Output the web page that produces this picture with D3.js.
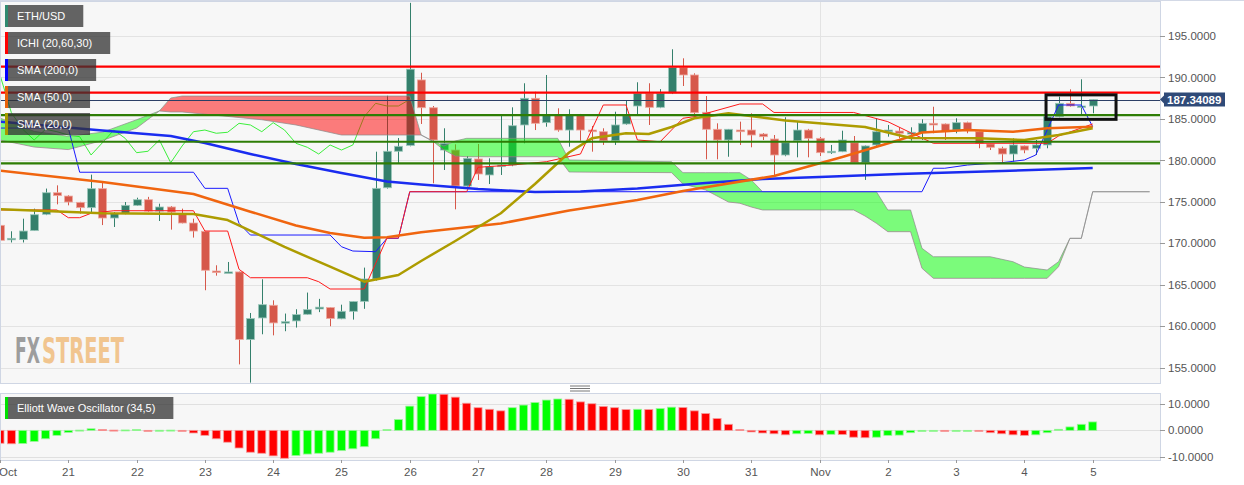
<!DOCTYPE html>
<html><head><meta charset="utf-8">
<script src="https://cdn.jsdelivr.net/npm/d3@7"></script>
<style>html,body{margin:0;padding:0;background:#fff;} svg{display:block;font-family:"Liberation Sans",Arial,sans-serif;}</style>
</head><body><svg id="c" width="1244" height="485"></svg>
<script>
// ---------- DATA ----------
const dayLabels = ["Oct","21","22","23","24","25","26","27","28","29","30","31","Nov","2","3","4","5"];
const priceTicks = [155,160,165,170,175,180,185,190,195];
const oscTicks = [10,0,-10];

const opens = [172.17,170.5,170.45,171.53,173.5,176.1,175.7,174.94,174.3,176.59,
173.05,173.58,174.58,175.26,173.89,174.38,173.58,172.45,171.45,166.66,
166.5,166.55,158.4,161.0,162.53,160.4,160.64,161.44,162.08,162.25,
160.9,161.8,163.0,165.7,176.7,181.1,181.8,189.7,186.35,181.25,
181.25,176.91,180.17,178.24,179.24,179.44,184.27,187.49,184.55,185.47,
183.66,185.47,183.66,183.46,182.37,184.39,186.56,188.09,186.4,188.13,
191.18,190.3,185.8,183.75,182.46,183.66,183.66,183.18,182.58,180.65,
182.37,183.66,182.66,181.0,181.05,182.13,179.72,181.86,183.46,183.54,
183.18,183.34,184.47,184.39,183.66,184.55,183.46,181.98,181.46,180.77,
181.74,181.46,181.86,185.27,186.88,186.4,186.56];
const closes = [170.36,170.6,171.48,173.45,176.1,175.75,174.98,174.3,176.59,173.05,
173.58,174.58,175.26,173.89,174.38,173.77,172.45,171.48,166.75,166.47,
166.55,158.4,160.93,162.6,160.4,160.55,161.4,162.0,162.3,160.93,
161.8,162.98,165.7,176.63,181.1,181.7,191.0,186.35,182.46,182.06,
176.91,180.25,178.36,179.24,179.44,184.18,187.49,184.47,185.47,183.66,
185.47,183.66,183.46,182.37,184.27,185.39,188.09,186.4,188.09,191.2,
190.3,185.75,183.75,182.46,183.75,183.46,183.06,182.86,180.65,182.13,
183.66,182.66,180.93,181.1,182.46,179.72,181.74,183.46,183.66,183.27,
183.39,184.47,184.27,183.46,184.55,183.66,182.06,181.58,180.77,181.86,
181.25,181.86,185.27,186.88,186.56,186.56,187.34];
const highs = [172.5,171.45,172.97,174.18,176.6,176.99,175.8,175.0,178.28,177.4,
173.77,174.98,175.5,175.6,174.78,174.5,174.18,172.97,171.5,167.35,
167.75,166.6,161.6,165.66,163.13,161.53,162.05,164.06,163.3,162.3,
162.6,163.0,167.07,181.05,187.8,182.7,199.0,190.57,186.56,183.87,
181.94,180.53,181.98,180.25,185.47,186.4,189.3,188.28,190.3,186.28,
186.16,185.6,184.15,183.87,185.87,187.28,189.42,189.3,188.6,193.4,
192.31,190.5,187.76,184.47,183.79,184.67,185.68,183.3,183.06,185.2,
184.67,183.8,182.82,181.86,183.58,182.94,181.8,185.08,184.27,183.99,
183.99,184.96,186.47,184.45,185.08,184.67,183.5,182.0,181.65,182.66,
181.8,182.46,185.35,187.68,188.57,189.78,187.37];
const lows = [169.55,170.1,170.1,171.5,173.4,174.7,174.58,173.58,173.77,172.2,
171.97,173.5,174.5,173.8,172.69,171.65,172.4,170.69,164.34,166.1,
166.45,155.4,153.2,159.03,158.9,159.4,159.84,161.4,161.7,160.0,
160.85,160.8,162.1,165.5,176.6,179.7,181.7,184.39,177.24,178.84,
174.1,176.83,177.64,177.15,178.24,179.3,182.06,183.66,184.06,183.46,
181.65,182.37,181.05,181.86,181.86,184.3,185.47,184.27,186.3,188.0,
188.97,185.27,180.13,180.13,180.44,181.86,181.58,182.46,178.24,180.5,
180.37,180.37,180.53,180.77,181.0,179.65,177.64,181.74,182.86,182.66,
182.37,182.46,183.27,182.46,183.27,183.27,181.46,181.25,179.65,179.84,
180.86,180.65,181.46,185.2,186.47,185.47,185.68];

const ewo = [-4.9,-5.1,-5.0,-4.2,-3.2,-1.9,-0.8,0.1,0.6,0.3,
0.1,0.15,0.3,0.0,0.05,0.1,0.0,-1.0,-1.9,-3.2,
-4.5,-6.7,-8.3,-8.7,-9.7,-10.6,-9.6,-9.0,-8.7,-8.3,
-7.7,-7.0,-6.2,-3.2,0.3,4.1,9.2,12.8,13.8,13.7,
12.6,10.3,8.6,8.0,7.4,8.6,9.6,10.6,11.5,11.9,
11.8,10.8,10.1,9.1,8.6,7.9,8.0,7.9,8.3,8.8,
8.7,7.4,6.4,4.5,2.3,0.3,-0.6,-1.0,-1.3,-1.7,
-1.3,-1.2,-1.7,-1.5,-1.6,-2.6,-2.8,-2.6,-1.9,-1.8,
-0.9,-0.4,-0.1,-0.2,-0.1,0.0,-0.3,-0.9,-1.3,-1.7,
-1.9,-1.7,-0.9,0.4,1.3,2.3,3.2];

// moving averages (vertex index, value)
const sma200Idx = [0,9,15,18,22,26,30,34,37,42,47,51,56,62,67,72,79,88,96];
const sma200Val = [184.67,183.6,182.94,182.1,180.77,179.56,178.48,177.45,177.09,176.55,176.19,176.25,176.6,177.27,177.76,178.0,178.36,178.72,179.08];
const sma50Idx = [0,9,17,22,26,29,32,34,37,44,50,56,60,68,74,79,81,85,89,92,96];
const sma50Val = [178.76,177.4,175.95,173.81,172.15,171.24,170.68,170.73,171.33,172.39,173.96,175.22,176.31,178.12,180.41,182.46,183.36,183.66,183.46,183.87,184.06];
const sma20Idx = [0,9,17,20,25,29,32,35,37,40,44,47,50,52,55,57,59,61,64,69,76,80,86,90,93,96];
const sma20Val = [174.1,173.62,173.53,172.81,169.56,167.18,165.37,166.18,167.87,170.28,173.62,177.15,180.95,182.66,183.27,183.18,184.03,185.08,185.68,184.81,184.03,182.70,182.66,182.46,183.06,183.87];

// ichimoku lines
const tenkanIdx = [0,5,6,7,8,10,17,18,20,21,22,27,28,29,32,34,35,36,41,42,45,48,51,53,55,56,58,60,61,65,67,68,75,78,80,82,92,93,96];
const tenkanVal = [174.02,174.02,173.09,173.09,173.62,173.93,173.93,171.48,171.48,166.87,165.85,165.85,165.37,164.49,164.49,170.64,170.64,176.22,176.22,179.17,179.44,179.84,180.77,186.68,186.68,182.46,182.25,185.08,185.27,186.8,186.8,185.78,185.78,184.67,183.34,182.06,182.06,182.94,184.39];
const kijunIdx = [0,6,7,17,18,20,21,22,29,30,31,33,34,35,36,81,82,83,85,88,90,91,92,93,95,96];
const kijunVal = [183.9,183.9,178.57,178.57,176.63,176.63,172.41,171.0,171.0,169.59,169.07,168.99,170.6,170.6,176.22,176.22,179.05,179.05,179.44,179.72,180.05,180.65,183.66,186.68,186.68,184.06];
// cloud (senkou A / B, already displaced)
const cloudIdx = [0,3,6,9,12,14,15,16,23,26,30,36,37,38,39,40,41,49,50,59,60,62,64,65,66,67,75,76,77,78,80,81,82,87,89,90,92,93,94,95,96,101];
const spanA = [185.11,183.5,182.9,183.4,184.9,185.96,185.84,185.84,184.9,184.27,183.06,183.06,183.06,182.34,181.74,182.34,182.66,182.66,180.05,179.84,178.52,178.52,178.52,178.52,177.64,176.22,176.22,176.22,176.22,174.02,174.02,169.4,168.38,168.38,167.78,167.14,166.78,167.78,170.6,170.6,176.22,176.22];
const spanB = [182.46,181.61,181.3,182.4,183.9,185.96,187.52,187.76,187.76,187.76,187.76,187.76,183.06,182.34,181.25,180.53,180.44,180.44,178.6,178.52,177.15,176.43,174.98,174.83,174.38,174.02,174.02,173.29,172.41,171.4,171.4,166.99,165.78,165.78,165.78,165.78,165.78,167.18,170.6,170.6,176.22,176.22];

const redLevels = [191.30,188.16];
const greenLevels = [185.47,182.25,179.65];
const lastPrice = 187.34089;
const chikouShift = 60;
const legendItems = ["ETH/USD","ICHI (20,60,30)","SMA (200,0)","SMA (50,0)","SMA (20,0)"];
const legendColors = ["#2f8a70","#ff0000","#0000ff","#e8620a","#a89a00"];

// ---------- LAYOUT ----------
const svg = d3.select("#c");
const PR = 1160, MT = 1, MB = 383, OT = 393, OB = 460;
const x = d3.scaleLinear().domain([0,96]).range([0,1092.7]);
const y = d3.scaleLinear().domain([155,195]).range([367.7,36]);
const yo = d3.scaleLinear().domain([-10,10]).range([456.7,404]);

svg.append("rect").attr("x",0).attr("y",0).attr("width",1244).attr("height",485).attr("fill","#fff");
svg.append("line").attr("x1",0).attr("x2",1244).attr("y1",0.5).attr("y2",0.5).attr("stroke","#d3d9e6");
svg.append("rect").attr("x",0.5).attr("y",MT+0.5).attr("width",PR).attr("height",MB-MT).attr("fill","#f7f7f7").attr("stroke","#cfd6e4");
svg.append("rect").attr("x",0.5).attr("y",OT+0.5).attr("width",PR).attr("height",OB-OT).attr("fill","#f7f7f7").attr("stroke","#cfd6e4");

const defs = svg.append("defs");
defs.append("clipPath").attr("id","mainClip").append("rect").attr("x",1).attr("y",MT+1).attr("width",PR-1).attr("height",MB-MT-1);
defs.append("clipPath").attr("id","oscClip").append("rect").attr("x",1).attr("y",OT+1).attr("width",PR-1).attr("height",OB-OT-1);

const grid = svg.append("g");
priceTicks.forEach(v=>grid.append("line").attr("x1",1).attr("x2",PR).attr("y1",Math.round(y(v))+0.5).attr("y2",Math.round(y(v))+0.5).attr("stroke","#e3e3e3"));
oscTicks.forEach(v=>grid.append("line").attr("x1",1).attr("x2",PR).attr("y1",Math.round(yo(v))+0.5).attr("y2",Math.round(yo(v))+0.5).attr("stroke","#e0e0e0"));
const novX = Math.round(x(72))+0.5;
grid.append("line").attr("x1",novX).attr("x2",novX).attr("y1",MT+1).attr("y2",MB).attr("stroke","#e3e3e3");
grid.append("line").attr("x1",novX).attr("x2",novX).attr("y1",OT+1).attr("y2",OB).attr("stroke","#e3e3e3");

const main = svg.append("g").attr("clip-path","url(#mainClip)");

// candles
const upC = "#34806c", dnC = "#d6584a";
const cg = main.append("g");
d3.range(opens.length).forEach(i=>{
  const o=opens[i], c=closes[i], up=c>=o, col=up?upC:dnC, cx=Math.round(x(i))+0.5;
  cg.append("line").attr("x1",cx).attr("x2",cx).attr("y1",y(highs[i])).attr("y2",y(lows[i])).attr("stroke",col).attr("stroke-width",1);
  const top=y(Math.max(o,c)), h=Math.max(1.5,Math.abs(y(o)-y(c)));
  cg.append("rect").attr("x",cx-4).attr("y",top).attr("width",8).attr("height",h).attr("fill",col)
    .attr("stroke",up?"#9cc8bb":"#eea99f").attr("stroke-width",0.8);
});

// chikou (close displaced back)
const chik = d3.range(chikouShift, closes.length).map(j=>[j-chikouShift, closes[j]]);
main.append("path").datum(chik).attr("fill","none").attr("stroke","#3cef3c").attr("stroke-width",1)
  .attr("d",d3.line().x(d=>x(d[0])).y(d=>y(d[1])));

// cloud
const cloud = cloudIdx.map((ix,k)=>({i:ix,a:spanA[k],b:spanB[k]}));
defs.append("clipPath").attr("id","aboveB").append("path").attr("d",d3.area().x(d=>x(d.i)).y0(0).y1(d=>y(d.b))(cloud));
defs.append("clipPath").attr("id","belowB").append("path").attr("d",d3.area().x(d=>x(d.i)).y0(d=>y(d.b)).y1(400)(cloud));
const between = d3.area().x(d=>x(d.i)).y0(d=>y(d.b)).y1(d=>y(d.a));
main.append("g").attr("clip-path","url(#aboveB)").append("path").attr("d",between(cloud)).attr("fill","rgba(0,255,0,0.5)");
main.append("g").attr("clip-path","url(#belowB)").append("path").attr("d",between(cloud)).attr("fill","rgba(255,0,0,0.5)");
main.append("path").datum(cloud).attr("fill","none").attr("stroke","#8a8a8a").attr("stroke-width",1).attr("stroke-opacity",0.7)
  .attr("d",d3.line().x(d=>x(d.i)).y(d=>y(d.a)));
main.append("path").datum(cloud).attr("fill","none").attr("stroke","#8a8a8a").attr("stroke-width",1).attr("stroke-opacity",0.7)
  .attr("d",d3.line().x(d=>x(d.i)).y(d=>y(d.b)));

const ln = d3.line().x(d=>x(d[0])).y(d=>y(d[1]));
function drawLine(idx, vals, col, w){
  main.append("path").datum(idx.map((ix,k)=>[ix,vals[k]])).attr("fill","none").attr("stroke",col).attr("stroke-width",w)
    .attr("stroke-linejoin","round").attr("d",ln);
}
drawLine(kijunIdx, kijunVal, "#1b1bff", 1);
drawLine(tenkanIdx, tenkanVal, "#ff1a1a", 1);
drawLine(sma200Idx, sma200Val, "#1a2cf0", 2.5);
drawLine(sma50Idx, sma50Val, "#f0650f", 2.5);
drawLine(sma20Idx, sma20Val, "#ad9c00", 2.5);

// levels
redLevels.forEach(v=>main.append("line").attr("x1",0).attr("x2",PR).attr("y1",y(v)).attr("y2",y(v)).attr("stroke","#ff0000").attr("stroke-width",2.2));
greenLevels.forEach(v=>main.append("line").attr("x1",0).attr("x2",PR).attr("y1",y(v)).attr("y2",y(v)).attr("stroke","#2e7d05").attr("stroke-width",2.2));
main.append("line").attr("x1",0).attr("x2",PR).attr("y1",Math.round(y(lastPrice))+0.5).attr("y2",Math.round(y(lastPrice))+0.5).attr("stroke","#2c3f66").attr("stroke-width",1);

// highlight box
main.append("rect").attr("x",x(91.9)).attr("y",y(187.9)).attr("width",x(98.05)-x(91.9)).attr("height",y(184.95)-y(187.9))
  .attr("fill","none").attr("stroke","#111").attr("stroke-width",3);

// watermark (scaled horizontally so glyph boxes do not overlap)
const wmFont = "'Liberation Sans Narrow','DejaVu Sans Condensed',Roboto,sans-serif";
function wmText(txt, x0, w, col){
  const g = main.append("g");
  const t = g.append("text").attr("x",0).attr("y",0).attr("font-size",36).attr("font-weight","bold").attr("font-family",wmFont).attr("fill",col).text(txt);
  const nat = t.node().getComputedTextLength();
  g.attr("transform",`translate(${x0},363) scale(${w/nat},1)`);
}
wmText("FX", 15, 25, "#9d9d9d");
wmText("STREET", 42, 82, "#f1c58f");

// oscillator
const osc = svg.append("g").attr("clip-path","url(#oscClip)");
ewo.forEach((v,i)=>{
  const up = i>0 && v>=ewo[i-1];
  const cx = x(i);
  const y0 = yo(0), y1 = yo(v);
  osc.append("rect").attr("x",cx-4).attr("y",Math.min(y0,y1)).attr("width",8).attr("height",Math.max(1,Math.abs(y1-y0)))
    .attr("fill",up?"#00ff00":"#ff0000").attr("stroke",up?"#9cf59c":"#f59c9c").attr("stroke-width",0.8);
});

// right axes
const FS = 11.5;
const ax = svg.append("g").attr("font-size",FS).attr("fill","#555");
priceTicks.forEach(v=>{
  ax.append("line").attr("x1",PR).attr("x2",PR+5).attr("y1",Math.round(y(v))+0.5).attr("y2",Math.round(y(v))+0.5).attr("stroke","#999");
  ax.append("text").attr("x",PR+8).attr("y",y(v)).attr("dy","0.36em").text(v.toFixed(4));
});
oscTicks.forEach(v=>{
  ax.append("line").attr("x1",PR).attr("x2",PR+5).attr("y1",Math.round(yo(v))+0.5).attr("y2",Math.round(yo(v))+0.5).attr("stroke","#999");
  ax.append("text").attr("x",PR+8).attr("y",yo(v)).attr("dy","0.36em").text(v.toFixed(4));
});
// last price label
const ly = y(lastPrice);
svg.append("path").attr("d",`M${PR},${ly} L${PR+4},${ly-4} L${PR+4},${ly-7} L${PR+65},${ly-7} L${PR+65},${ly+7} L${PR+4},${ly+7} L${PR+4},${ly+4} Z`).attr("fill","#2f4a78");
svg.append("text").attr("x",PR+7).attr("y",ly).attr("dy","0.36em").attr("font-size",FS).attr("font-weight","bold").attr("fill","#fff").text(lastPrice.toFixed(5));

// x axis
dayLabels.forEach((lab,k)=>{
  const px = Math.round(x(k*6))+0.5;
  svg.append("line").attr("x1",px).attr("x2",px).attr("y1",OB).attr("y2",OB+3).attr("stroke","#999");
  svg.append("text").attr("x",k===0?-1:px).attr("y",476).attr("text-anchor",k===0?"start":"middle").attr("font-size",FS).attr("fill","#555").text(lab);
});

// resize handle
[386,388.5,391].forEach(yy=>svg.append("line").attr("x1",570).attr("x2",590).attr("y1",yy).attr("y2",yy).attr("stroke","#777").attr("stroke-width",1));

// legends
function legend(txt, col, top){
  const g = svg.append("g");
  const t = g.append("text").attr("x",17).attr("y",top+11).attr("dy","0.36em").attr("font-size",11).attr("fill","#fff").text(txt);
  const w = t.node().getComputedTextLength();
  g.insert("rect","text").attr("x",5).attr("y",top).attr("width",w+30).attr("height",22).attr("fill","rgba(50,50,50,0.75)");
  g.insert("rect","text").attr("x",5).attr("y",top).attr("width",3).attr("height",22).attr("fill",col);
}
legendItems.forEach((t,k)=>legend(t, legendColors[k], 5+k*27));
legend("Elliott Wave Oscillator (34,5)", "#00e000", 397);
</script></body></html>
